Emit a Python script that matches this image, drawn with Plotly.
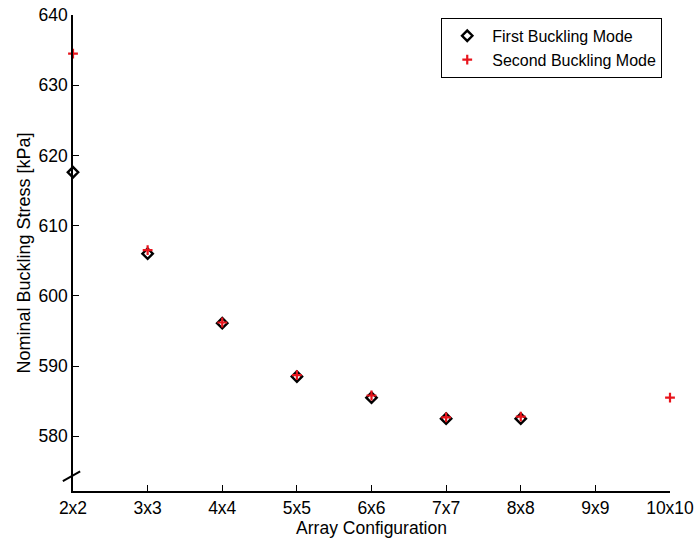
import plotly.graph_objects as go

categories = ["2x2", "3x3", "4x4", "5x5", "6x6", "7x7", "8x8", "9x9", "10x10"]
first_mode = [617.6, 606.0, 596.1, 588.5, 585.5, 582.5, 582.5, None, None]
second_mode = [634.5, 606.5, 596.2, 588.7, 585.8, 582.7, 582.8, None, 585.5]
y_ticks = [580, 590, 600, 610, 620, 630, 640]

xpos = list(range(len(categories)))
FONT = "Liberation Sans, Arial, Helvetica, sans-serif"

fig = go.Figure()
fig.add_trace(go.Scatter(
    x=xpos, y=first_mode, mode="markers", name="First Buckling Mode", cliponaxis=False,
    marker=dict(symbol="diamond-open", size=8, color="black", line=dict(width=2.4, color="black")),
))
fig.add_trace(go.Scatter(
    x=xpos, y=second_mode, mode="markers", name="Second Buckling Mode", cliponaxis=False,
    marker=dict(symbol="cross-thin-open", size=7, color="#e8141c", line=dict(width=2.2, color="#e8141c")),
))

# axis break mark
fig.add_shape(type="line", xref="paper", yref="y", x0=-0.017, x1=0.012, y0=573.6, y1=575.0,
              line=dict(color="black", width=2))

fig.update_layout(
    width=696, height=544,
    margin=dict(l=73, r=26, t=15, b=53, autoexpand=False),
    paper_bgcolor="white", plot_bgcolor="white",
    font=dict(family=FONT, size=17, color="black"),
    showlegend=True,
    legend=dict(
        x=0.987, y=0.994, xanchor="right", yanchor="top",
        bgcolor="white", bordercolor="black", borderwidth=1,
        font=dict(size=16), tracegroupgap=0, itemwidth=40,
    ),
    xaxis=dict(
        tickmode="array", tickvals=xpos, ticktext=categories,
        range=[0, len(categories) - 1], automargin=False,
        showline=True, linecolor="black", linewidth=1.5, mirror=False,
        ticks="inside", ticklen=6, tickcolor="black", tickwidth=1.2,
        showgrid=False, zeroline=False,
        title=dict(text="Array Configuration", standoff=4, font=dict(size=17.5)),
        tickfont=dict(size=17.5),
    ),
    yaxis=dict(
        tickmode="array", tickvals=y_ticks,
        range=[572.2, 640], automargin=False,
        showline=True, linecolor="black", linewidth=1.5, mirror=False,
        ticks="inside", ticklen=6, tickcolor="black", tickwidth=1.2,
        showgrid=False, zeroline=False,
        title=dict(text="Nominal Buckling Stress [kPa]", standoff=3, font=dict(size=18)),
        tickfont=dict(size=17.5),
    ),
)

fig.write_html("out.html")
